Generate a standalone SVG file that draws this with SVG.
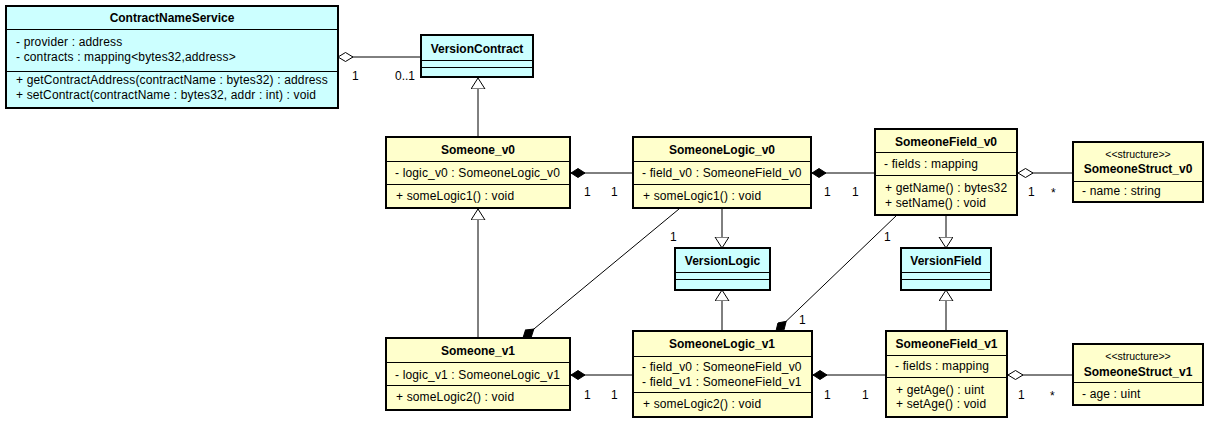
<svg xmlns="http://www.w3.org/2000/svg" width="1214" height="424" viewBox="0 0 1214 424">
<style>
.box{stroke:#000;stroke-width:2}
.c{fill:#CCFFFF}
.y{fill:#FFFFCC}
.sep{stroke:#000;stroke-width:1}
text{font-family:"Liberation Sans",Arial,sans-serif;font-size:12px;fill:#000}
.r{letter-spacing:0.15px}
.b{font-weight:bold;text-anchor:middle}
.s{font-size:10.5px;text-anchor:middle}
.ln{stroke:#000;stroke-width:1;fill:none}
</style>
<defs>
<marker id="tri" markerUnits="userSpaceOnUse" markerWidth="14" markerHeight="16" refX="11" refY="7" orient="auto"><path d="M0,0 L11,7 L0,14 z" fill="#fff" stroke="#000" stroke-width="1"/></marker>
<marker id="odia" markerUnits="userSpaceOnUse" markerWidth="18" markerHeight="12" refX="1" refY="5" orient="auto"><path d="M1,5 L8.5,0.5 L16,5 L8.5,9.5 z" fill="#fff" stroke="#000" stroke-width="1"/></marker>
<marker id="fdia" markerUnits="userSpaceOnUse" markerWidth="18" markerHeight="12" refX="1" refY="5" orient="auto"><path d="M1,5 L8,0.5 L15,5 L8,9.5 z" fill="#000" stroke="#000" stroke-width="1"/></marker>
</defs>

<g id="connectors">
<line class="ln" x1="338" y1="57" x2="421" y2="57" marker-start="url(#odia)"/>
<line class="ln" x1="478" y1="137" x2="478" y2="78" marker-end="url(#tri)"/>
<line class="ln" x1="478" y1="338" x2="478" y2="209" marker-end="url(#tri)"/>
<line class="ln" x1="571" y1="173" x2="633" y2="173" marker-start="url(#fdia)"/>
<line class="ln" x1="812" y1="173" x2="875" y2="173" marker-start="url(#fdia)"/>
<line class="ln" x1="1018" y1="173" x2="1073" y2="173" marker-start="url(#odia)"/>
<line class="ln" x1="722" y1="209" x2="722" y2="248" marker-end="url(#tri)"/>
<line class="ln" x1="722" y1="331" x2="722" y2="290" marker-end="url(#tri)"/>
<line class="ln" x1="946" y1="215" x2="946" y2="248" marker-end="url(#tri)"/>
<line class="ln" x1="946" y1="331" x2="946" y2="290" marker-end="url(#tri)"/>
<line class="ln" x1="523" y1="338" x2="679" y2="209" marker-start="url(#fdia)"/>
<line class="ln" x1="776" y1="331" x2="897" y2="215" marker-start="url(#fdia)"/>
<line class="ln" x1="571" y1="375" x2="633" y2="375" marker-start="url(#fdia)"/>
<line class="ln" x1="813" y1="375" x2="886" y2="375" marker-start="url(#fdia)"/>
<line class="ln" x1="1008" y1="375" x2="1073" y2="375" marker-start="url(#odia)"/>
<text x="352" y="80">1</text>
<text x="395" y="80">0..1</text>
<text x="584" y="196">1</text>
<text x="611" y="196">1</text>
<text x="824" y="196">1</text>
<text x="852" y="196">1</text>
<text x="1028" y="196">1</text>
<text x="1051" y="197">*</text>
<text x="670" y="241">1</text>
<text x="541" y="347">1</text>
<text x="884" y="241">1</text>
<text x="799" y="324">1</text>
<text x="584" y="399">1</text>
<text x="611" y="399">1</text>
<text x="824" y="399">1</text>
<text x="862" y="399">1</text>
<text x="1018" y="399">1</text>
<text x="1050" y="400">*</text>
</g>

<g id="ContractNameService">
<rect class="box c" x="6" y="6" width="332" height="102"/>
<line class="sep" x1="6" y1="29.5" x2="338" y2="29.5"/>
<line class="sep" x1="6" y1="71.5" x2="338" y2="71.5"/>
<text class="b" x="172" y="22">ContractNameService</text>
<text class="r" x="16" y="46">- provider : address</text>
<text class="r" x="16" y="61">- contracts : mapping&lt;bytes32,address&gt;</text>
<text class="r" x="16" y="84">+ getContractAddress(contractName : bytes32) : address</text>
<text class="r" x="16" y="99">+ setContract(contractName : bytes32, addr : int) : void</text>
</g>

<g id="VersionContract">
<rect class="box c" x="421" y="35" width="112" height="42"/>
<line class="sep" x1="421" y1="60.5" x2="533" y2="60.5"/>
<line class="sep" x1="421" y1="67.5" x2="533" y2="67.5"/>
<text class="b" x="477" y="53">VersionContract</text>
</g>

<g id="Someone_v0">
<rect class="box y" x="386" y="137" width="184" height="71"/>
<line class="sep" x1="386" y1="161.5" x2="570" y2="161.5"/>
<line class="sep" x1="386" y1="184.5" x2="570" y2="184.5"/>
<text class="b" x="478" y="154">Someone_v0</text>
<text class="r" x="395" y="177">- logic_v0 : SomeoneLogic_v0</text>
<text class="r" x="396" y="200">+ someLogic1() : void</text>
</g>

<g id="SomeoneLogic_v0">
<rect class="box y" x="633" y="137" width="178" height="71"/>
<line class="sep" x1="633" y1="161.5" x2="811" y2="161.5"/>
<line class="sep" x1="633" y1="184.5" x2="811" y2="184.5"/>
<text class="b" x="722" y="154">SomeoneLogic_v0</text>
<text class="r" x="642" y="177">- field_v0 : SomeoneField_v0</text>
<text class="r" x="643" y="200">+ someLogic1() : void</text>
</g>

<g id="SomeoneField_v0">
<rect class="box y" x="875" y="129" width="142" height="86"/>
<line class="sep" x1="875" y1="152.5" x2="1017" y2="152.5"/>
<line class="sep" x1="875" y1="175.5" x2="1017" y2="175.5"/>
<text class="b" x="946" y="146">SomeoneField_v0</text>
<text class="r" x="884" y="168">- fields : mapping</text>
<text class="r" x="885" y="192">+ getName() : bytes32</text>
<text class="r" x="885" y="207">+ setName() : void</text>
</g>

<g id="SomeoneStruct_v0">
<rect class="box y" x="1073" y="142" width="130" height="60"/>
<line class="sep" x1="1073" y1="181.5" x2="1203" y2="181.5"/>
<text class="s" x="1138" y="158">&lt;&lt;structure&gt;&gt;</text>
<text class="b" x="1138" y="173">SomeoneStruct_v0</text>
<text class="r" x="1082" y="195">- name : string</text>
</g>

<g id="VersionLogic">
<rect class="box c" x="675" y="248" width="95" height="42"/>
<line class="sep" x1="675" y1="272.5" x2="770" y2="272.5"/>
<line class="sep" x1="675" y1="279.5" x2="770" y2="279.5"/>
<text class="b" x="722.5" y="265">VersionLogic</text>
</g>

<g id="VersionField">
<rect class="box c" x="901" y="248" width="90" height="42"/>
<line class="sep" x1="901" y1="272.5" x2="991" y2="272.5"/>
<line class="sep" x1="901" y1="279.5" x2="991" y2="279.5"/>
<text class="b" x="946" y="265">VersionField</text>
</g>

<g id="Someone_v1">
<rect class="box y" x="386" y="338" width="184" height="72"/>
<line class="sep" x1="386" y1="362.5" x2="570" y2="362.5"/>
<line class="sep" x1="386" y1="385.5" x2="570" y2="385.5"/>
<text class="b" x="478" y="355">Someone_v1</text>
<text class="r" x="395" y="379">- logic_v1 : SomeoneLogic_v1</text>
<text class="r" x="396" y="401">+ someLogic2() : void</text>
</g>

<g id="SomeoneLogic_v1">
<rect class="box y" x="633" y="331" width="179" height="86"/>
<line class="sep" x1="633" y1="356.5" x2="812" y2="356.5"/>
<line class="sep" x1="633" y1="392.5" x2="812" y2="392.5"/>
<text class="b" x="722" y="348">SomeoneLogic_v1</text>
<text class="r" x="642" y="371">- field_v0 : SomeoneField_v0</text>
<text class="r" x="642" y="386">- field_v1 : SomeoneField_v1</text>
<text class="r" x="643" y="408">+ someLogic2() : void</text>
</g>

<g id="SomeoneField_v1">
<rect class="box y" x="886" y="331" width="121" height="86"/>
<line class="sep" x1="886" y1="355.5" x2="1007" y2="355.5"/>
<line class="sep" x1="886" y1="377.5" x2="1007" y2="377.5"/>
<text class="b" x="946.5" y="348">SomeoneField_v1</text>
<text class="r" x="895" y="370">- fields : mapping</text>
<text class="r" x="896" y="394">+ getAge() : uint</text>
<text class="r" x="896" y="408">+ setAge() : void</text>
</g>

<g id="SomeoneStruct_v1">
<rect class="box y" x="1073" y="344" width="130" height="61"/>
<line class="sep" x1="1073" y1="382.5" x2="1203" y2="382.5"/>
<text class="s" x="1138" y="360">&lt;&lt;structure&gt;&gt;</text>
<text class="b" x="1138" y="376">SomeoneStruct_v1</text>
<text class="r" x="1082" y="398">- age : uint</text>
</g>
</svg>
